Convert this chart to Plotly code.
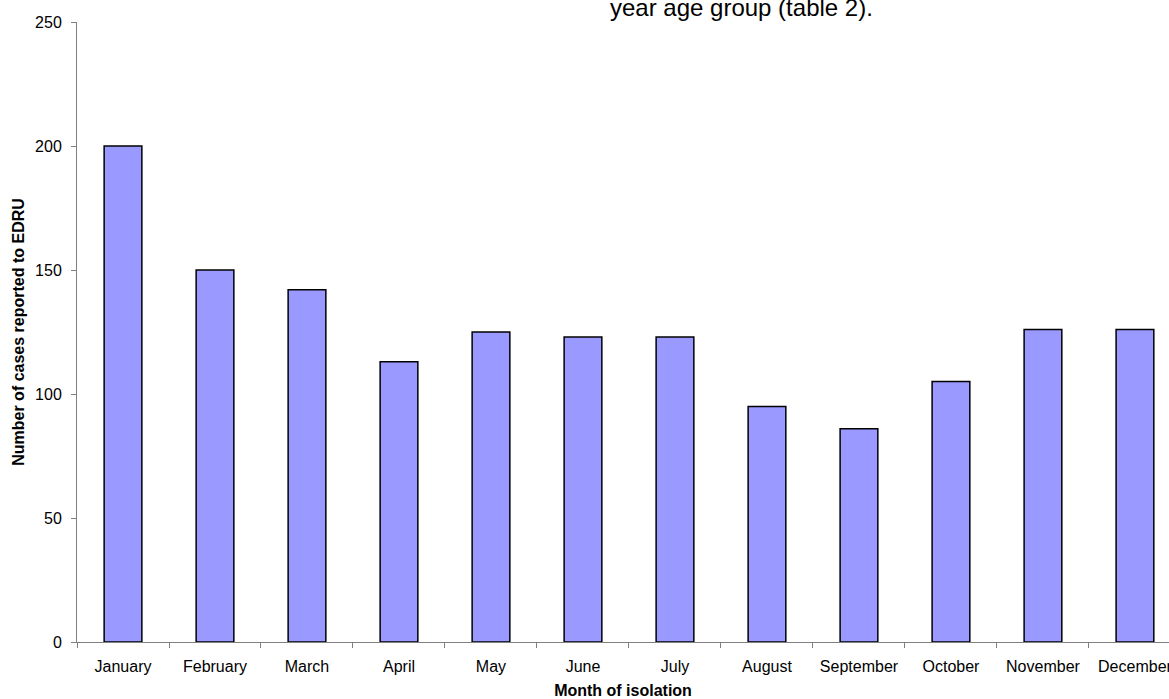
import plotly.graph_objects as go

months = ["January", "February", "March", "April", "May", "June", "July",
          "August", "September", "October", "November", "December"]
cases = [200, 150, 142, 113, 125, 123, 123, 95, 86, 105, 126, 126]
y_ticks = [0, 50, 100, 150, 200, 250]

FONT = "Liberation Sans, Arial, sans-serif"

fig = go.Figure()
fig.add_trace(go.Bar(
    x=months, y=cases, width=0.41,
    marker=dict(color="#9999FF", line=dict(color="#000000", width=1.5)),
))

fig.update_layout(
    width=1169, height=699,
    margin=dict(l=77, r=0, t=22, b=57),
    paper_bgcolor="white", plot_bgcolor="white",
    font=dict(family=FONT, size=16, color="black"),
    showlegend=False,
    xaxis=dict(
        type="category", range=[-0.5, 11.37], automargin=False,
        showline=True, linecolor="#808080", linewidth=1,
        ticks="outside", ticklen=5, tickcolor="#808080", tickson="boundaries",
        showgrid=False, zeroline=False,
        tickfont=dict(size=16), ticklabelstandoff=10,
        title=dict(text="<b>Month of isolation</b>", font=dict(size=16), standoff=23),
    ),
    yaxis=dict(
        range=[0, 250], tickvals=y_ticks, automargin=False,
        showline=True, linecolor="#808080", linewidth=1,
        ticks="outside", ticklen=5, tickcolor="#808080",
        showgrid=False, zeroline=False,
        tickfont=dict(size=16), ticklabelstandoff=6,
        title=dict(text="<b>Number of cases reported to EDRU</b>", font=dict(size=16), standoff=6),
    ),
    annotations=[dict(
        text="year age group (table 2).", xref="paper", yref="paper",
        x=(608 - 77) / 1092, y=1.024, xanchor="left", yanchor="middle",
        showarrow=False, font=dict(size=24, family=FONT, color="black"),
    )],
)

fig.write_html("out.html", config={"displayModeBar": False},
               post_script="document.body.style.margin='0';")
